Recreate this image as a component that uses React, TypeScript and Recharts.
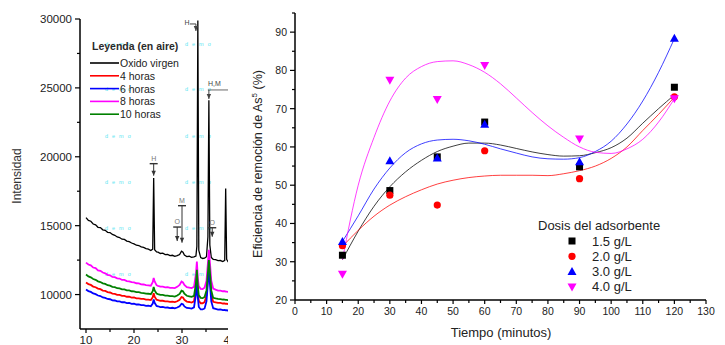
import { LineChart, Line, XAxis, YAxis, ComposedChart, Scatter, ReferenceDot } from "recharts";

const FONT = "Arial, 'Liberation Sans', Helvetica, sans-serif";

// --- Difractogramas (2θ vs intensidad) ---
const angles = [
  10, 10.5, 11, 11.5, 12, 12.5, 13, 13.5, 14, 14.5,
  15, 15.5, 16, 16.5, 17, 17.5, 18, 18.5, 19, 19.5,
  20, 20.5, 21, 21.5, 22, 22.5, 23, 23.5, 23.9, 24.1,
  24.3, 24.7, 25, 25.5, 26, 26.5, 27, 27.5, 28, 28.5,
  29, 29.5, 29.9, 30.2, 30.5, 31, 31.5, 32, 32.5, 32.9,
  33.1, 33.3, 33.5, 33.9, 34.3, 34.7, 35.1, 35.4, 35.6, 35.8,
  36.1, 36.5, 37, 37.5, 38, 38.5, 38.9, 39.1, 39.3, 39.6,
  40,
];
const oxidoVirgen = [
  15580, 15380, 15320, 15120, 15060, 14880, 14860, 14700, 14660, 14520,
  14500, 14360, 14300, 14180, 14140, 14020, 14000, 13880, 13840, 13740,
  13680, 13580, 13560, 13460, 13420, 13330, 13290, 13200, 13300, 18450,
  13250, 13100, 13080, 12980, 13000, 12900, 12920, 12830, 12850, 12770,
  12820, 12900, 13150, 13080, 12860, 12760, 12780, 12700, 12730, 12800,
  13500, 29900, 13200, 12680, 12620, 12640, 12750, 14200, 24100, 13600,
  12700, 12560, 12540, 12460, 12470, 12400, 12480, 17700, 12550, 12380,
  12360,
];
const horas4 = [
  10870, 10760, 10700, 10580, 10530, 10430, 10390, 10290, 10260, 10180,
  10150, 10070, 10050, 9980, 9970, 9900, 9900, 9840, 9840, 9780,
  9790, 9730, 9730, 9680, 9680, 9630, 9630, 9600, 9800, 10100,
  9850, 9630, 9600, 9550, 9550, 9510, 9510, 9470, 9480, 9450,
  9510, 9620, 9820, 9790, 9620, 9490, 9460, 9420, 9510, 10400,
  11300, 10200, 9550, 9370, 9370, 9450, 9950, 11300, 12200, 11400,
  9950, 9470, 9430, 9390, 9390, 9350, 9360, 9330, 9340, 9310,
  9300,
];
const horas6 = [
  10360, 10250, 10190, 10080, 10030, 9930, 9890, 9790, 9760, 9680,
  9660, 9580, 9570, 9500, 9500, 9440, 9440, 9380, 9390, 9330,
  9340, 9280, 9280, 9230, 9230, 9180, 9190, 9150, 9350, 9650,
  9400, 9170, 9150, 9090, 9100, 9050, 9060, 9020, 9040, 9000,
  9060, 9150, 9330, 9290, 9140, 9030, 9010, 8980, 9070, 10000,
  11000, 9800, 9100, 8920, 8920, 8990, 9500, 10900, 11700, 10900,
  9500, 9010, 8960, 8910, 8920, 8870, 8890, 8850, 8860, 8840,
  8840,
];
const horas8 = [
  12320, 12180, 12120, 11960, 11920, 11760, 11720, 11600, 11540, 11430,
  11400, 11280, 11260, 11180, 11160, 11060, 11060, 10980, 10960, 10900,
  10890, 10820, 10810, 10740, 10730, 10680, 10670, 10640, 10900, 11200,
  10950, 10680, 10630, 10570, 10570, 10520, 10530, 10480, 10490, 10470,
  10560, 10700, 10950, 10880, 10700, 10540, 10510, 10470, 10560, 11500,
  12400, 11200, 10600, 10410, 10400, 10500, 11000, 12300, 13250, 12400,
  11000, 10440, 10360, 10290, 10290, 10240, 10240, 10210, 10210, 10190,
  10180,
];
const horas10 = [
  11450, 11320, 11250, 11130, 11070, 10960, 10910, 10810, 10770, 10680,
  10650, 10560, 10540, 10460, 10450, 10380, 10370, 10300, 10300, 10240,
  10230, 10180, 10170, 10120, 10110, 10070, 10060, 10030, 10250, 10550,
  10300, 10070, 10030, 9970, 9970, 9920, 9920, 9880, 9880, 9850,
  9930, 10050, 10280, 10240, 10060, 9910, 9870, 9830, 9910, 10800,
  11800, 10600, 9950, 9760, 9740, 9830, 10300, 11600, 12500, 11700,
  10300, 9760, 9720, 9690, 9670, 9640, 9630, 9610, 9610, 9590,
  9580,
];
const drxNames = ["Oxido virgen", "4 horas", "6 horas", "8 horas", "10 horas"];
const angleTicks = [10, 15, 20, 25, 30, 35, 40];
const intensityTicks = [10000, 12500, 15000, 17500, 20000, 22500, 25000, 27500, 30000];

// marcas de fases sobre los picos: H hematita, M magnetita, O otra fase
const peakTags = [
  { angle: 24.1, level: 19500, label: "H", kind: "bar", drop: 12 },
  { angle: 30.0, level: 16450, label: "M", kind: "bar", drop: 37 },
  { angle: 29.0, level: 14900, label: "O", kind: "bar", drop: 14 },
  { angle: 36.3, level: 14850, label: "O", kind: "bar", drop: 9 },
  { angle: 32.9, level: 29640, label: "H", kind: "corner", drop: 7 },
  { angle: 35.6, level: 24850, label: "H,M", kind: "shelf", drop: 9 },
];

// --- Remoción de arsénico vs tiempo ---
const minutes = [15, 30, 45, 60, 90, 120];
const dosis15 = [31.7, 48.6, 57.4, 66.5, 54.8, 75.6];
const dosis20 = [34.2, 47.4, 44.8, 59.0, 51.7, 73.1];
const dosis30 = [35.3, 56.4, 57.1, 65.9, 56.1, 88.4];
const dosis40 = [26.7, 77.4, 72.4, 81.3, 62.1, 72.6];

const fitMinutes = [15, 20, 25, 30, 35, 40, 45, 50, 55, 60, 65, 70, 75, 80, 85, 90, 95, 100, 105, 110, 115, 120];
const ajuste15 = [30.5, 38, 44.5, 49.6, 53.5, 56.5, 58.8, 60.2, 61, 61, 60.5, 59.6, 58.7, 58, 57.6, 57.7, 58.5, 59.8, 62.3, 66.2, 70, 73.6];
const ajuste20 = [34, 38.2, 41.9, 44.8, 47, 48.8, 50.3, 51.3, 52, 52.4, 52.6, 52.6, 52.6, 52.5, 53, 53.8, 55, 57, 60, 64.3, 68.5, 73];
const ajuste30 = [35.3, 42, 49, 54.5, 58.5, 60.8, 61.8, 62, 61.6, 60.7, 59.5, 58.4, 57.4, 56.9, 56.8, 57.2, 58.8, 61.5, 66, 72, 79.5, 88.3];
const ajuste40 = [30.5, 50, 62.5, 72, 78, 81, 82.3, 82.5, 81.5, 79.5, 76.5, 72.8, 69, 65.5, 62.5, 60, 58.6, 58.3, 59.5, 62, 66.5, 72.6];

const doseLabels = ["1.5 g/L", "2.0 g/L", "3.0 g/L", "4.0 g/L"];
const timeTicks = [0, 5, 10, 15, 20, 25, 30, 35, 40, 45, 50, 55, 60, 65, 70, 75, 80, 85, 90, 95, 100, 105, 110, 115, 120, 125, 130];
const efficiencyTicks = [20, 25, 30, 35, 40, 45, 50, 55, 60, 65, 70, 75, 80, 85, 90, 95];

const drxColors = ["#000000", "#ff0000", "#0000ff", "#ff00ff", "#008000"];
const drxKeys = ["virgen", "h4", "h6", "h8", "h10"];
const doseColors = ["#000000", "#ff0000", "#0000ff", "#ff00ff"];

const drxData = angles.map((a, i) => ({
  a,
  virgen: oxidoVirgen[i],
  h4: horas4[i],
  h6: horas6[i],
  h8: horas8[i],
  h10: horas10[i],
}));

const toPoints = (ys: number[]) => minutes.map((t, i) => ({ t, v: ys[i] }));
const toFit = (ys: number[]) => fitMinutes.map((t, i) => ({ t, v: ys[i] }));
const dosePoints = [dosis15, dosis20, dosis30, dosis40].map(toPoints);
const doseFits = [ajuste15, ajuste20, ajuste30, ajuste40].map(toFit);

// ticks: mayores con etiqueta, menores solo la rayita
const makeYTick = (step: number, fontSize: number) => (props: any) => {
  const { x, y, payload } = props;
  const major = payload.value % step === 0;
  return (
    <g>
      <line x1={x - (major ? 5 : 3)} x2={x} y1={y} y2={y} stroke="#000" strokeWidth={1.2} />
      {major && (
        <text x={x - 8} y={y + 4} textAnchor="end" fontSize={fontSize} fill="#1c1c1c" fontFamily={FONT}>
          {payload.value}
        </text>
      )}
    </g>
  );
};

const makeXTick = (step: number, fontSize: number) => (props: any) => {
  const { x, y, payload } = props;
  const major = payload.value % step === 0;
  return (
    <g>
      <line x1={x} x2={x} y1={y} y2={y + (major ? 4 : 3)} stroke="#000" strokeWidth={1.2} />
      {major && (
        <text x={x} y={y + 15} textAnchor="middle" fontSize={fontSize} fill="#1c1c1c" fontFamily={FONT}>
          {payload.value}
        </text>
      )}
    </g>
  );
};

const PeakTag = (label: string, kind: string, drop: number) => (props: any) => {
  const { cx, cy } = props;
  const head = (x: number, y: number) => `M${x - 2.2},${y - 5}L${x + 2.2},${y - 5}L${x},${y}Z`;
  if (kind === "corner") {
    return (
      <g fill="#444" stroke="#444">
        <text x={cx - 9} y={cy + 1} fontSize={7} stroke="none" fontFamily={FONT} textAnchor="middle">{label}</text>
        <line x1={cx - 6} x2={cx} y1={cy} y2={cy} strokeWidth={1} />
        <line x1={cx} x2={cx} y1={cy} y2={cy + drop} strokeWidth={1} />
        <path d={head(cx, cy + drop)} stroke="none" />
      </g>
    );
  }
  if (kind === "shelf") {
    return (
      <g fill="#444" stroke="#444">
        <text x={cx - 1} y={cy - 4} fontSize={7} stroke="none" fontFamily={FONT}>{label}</text>
        <line x1={cx - 1} x2={cx + 22} y1={cy} y2={cy} strokeWidth={0.8} />
        <line x1={cx} x2={cx} y1={cy} y2={cy + drop} strokeWidth={1} />
        <path d={head(cx, cy + drop)} stroke="none" />
      </g>
    );
  }
  return (
    <g fill="#333" stroke="#333">
      <text x={cx} y={cy - 3} fontSize={7} fill="#777" stroke="none" fontFamily={FONT} textAnchor="middle">{label}</text>
      <line x1={cx - 4} x2={cx + 4} y1={cy} y2={cy} strokeWidth={1.4} />
      <line x1={cx} x2={cx} y1={cy} y2={cy + drop} strokeWidth={1} />
      <path d={head(cx, cy + drop)} stroke="none" />
    </g>
  );
};

const square = (p: any) => <rect x={p.cx - 3.5} y={p.cy - 3.5} width={7} height={7} fill="#000" />;
const circle = (p: any) => <circle cx={p.cx} cy={p.cy} r={3.6} fill="#ff0000" />;
const triUp = (p: any) => (
  <path d={`M${p.cx},${p.cy - 4.5}L${p.cx + 4.5},${p.cy + 3.5}L${p.cx - 4.5},${p.cy + 3.5}Z`} fill="#0000ff" />
);
const triDown = (p: any) => (
  <path d={`M${p.cx},${p.cy + 4.5}L${p.cx + 4.5},${p.cy - 3.5}L${p.cx - 4.5},${p.cy - 3.5}Z`} fill="#ff00ff" />
);
const doseShapes = [square, circle, triUp, triDown];

// marca de agua de la versión demo
const demoSpots = [46, 91, 138, 184, 230, 276].flatMap((y) => [
  { x: 105, y },
  { x: 185, y },
]);

const App = () => {
  return (
    <div style={{ position: "absolute", left: 0, top: 0, width: 725, height: 345, overflow: "hidden", background: "#fff" }}>
      {/* difractogramas, recortados por el borde derecho */}
      <div style={{ position: "absolute", left: 0, top: 0, width: 228, height: 345, overflow: "hidden" }}>
        <svg width={228} height={345} style={{ position: "absolute", left: 0, top: 0, pointerEvents: "none" }}>
          {demoSpots.map((s, i) => (
            <text key={i} x={s.x} y={s.y} fontSize={5.5} letterSpacing={4} fill="#5ce6f2" fontFamily={FONT}>
              demo
            </text>
          ))}
        </svg>
        <div style={{ position: "absolute", left: 0, top: 0 }}>
          <LineChart width={260} height={345} data={drxData} margin={{ top: 19, right: 30, bottom: 0, left: 0 }}>
            <XAxis
              dataKey="a"
              type="number"
              domain={[8.75, 40]}
              ticks={angleTicks}
              allowDataOverflow
              height={16}
              tickSize={0}
              tickMargin={0}
              tickLine={false}
              axisLine={{ stroke: "#000", strokeWidth: 1.5 }}
              tick={makeXTick(10, 11.5)}
              interval={0}
            />
            <YAxis
              type="number"
              domain={[7500, 30000]}
              ticks={intensityTicks}
              allowDataOverflow
              width={80}
              tickSize={0}
              tickMargin={0}
              tickLine={false}
              axisLine={{ stroke: "#000", strokeWidth: 1.5 }}
              tick={makeYTick(5000, 11.5)}
              interval={0}
            />
            {drxKeys.map((k, i) => (
              <Line
                key={k}
                dataKey={k}
                name={drxNames[i]}
                stroke={drxColors[i]}
                strokeWidth={i === 0 ? 1.3 : 1.8}
                dot={false}
                type="linear"
                isAnimationActive={false}
              />
            ))}
            {peakTags.map((t, i) => (
              <ReferenceDot
                key={i}
                x={t.angle}
                y={t.level}
                r={0}
                ifOverflow="visible"
                shape={PeakTag(t.label, t.kind, t.drop)}
              />
            ))}
          </LineChart>
        </div>
        <svg width={228} height={345} style={{ position: "absolute", left: 0, top: 0, pointerEvents: "none" }}>
          <text x={92} y={50} fontSize={10.5} fontWeight="bold" fill="#2a2a2a" fontFamily={FONT}>
            Leyenda (en aire)
          </text>
          {drxNames.map((n, i) => (
            <g key={n}>
              <line x1={90} x2={119} y1={63 + i * 12.8} y2={63 + i * 12.8} stroke={drxColors[i]} strokeWidth={1.6} />
              <text x={120} y={67 + i * 12.8} fontSize={10.5} fill="#222" fontFamily={FONT}>
                {n}
              </text>
            </g>
          ))}
          <text
            transform="translate(21,176) rotate(-90)"
            textAnchor="middle"
            fontSize={12}
            fill="#333"
            fontFamily={FONT}
          >
            Intensidad
          </text>
        </svg>
      </div>

      {/* eficiencia de remoción */}
      <div style={{ position: "absolute", left: 240, top: 0 }}>
        <ComposedChart width={485} height={345} margin={{ top: 13, right: 19, bottom: 0, left: 0 }}>
          <XAxis
            dataKey="t"
            type="number"
            domain={[0, 130]}
            ticks={timeTicks}
            height={45}
            tickSize={0}
            tickMargin={0}
            tickLine={false}
            axisLine={{ stroke: "#000", strokeWidth: 1.5 }}
            tick={makeXTick(10, 10.5)}
            interval={0}
          />
          <YAxis
            type="number"
            domain={[20, 95]}
            ticks={efficiencyTicks}
            width={55}
            tickSize={0}
            tickMargin={0}
            tickLine={false}
            axisLine={{ stroke: "#000", strokeWidth: 1.5 }}
            tick={makeYTick(10, 10.5)}
            interval={0}
          />
          {doseFits.map((d, i) => (
            <Line
              key={"fit" + i}
              data={d}
              dataKey="v"
              stroke={doseColors[i]}
              strokeOpacity={0.75}
              strokeWidth={1}
              dot={false}
              type="monotone"
              isAnimationActive={false}
            />
          ))}
          {dosePoints.map((d, i) => (
            <Scatter
              key={"pts" + i}
              name={doseLabels[i]}
              data={d}
              dataKey="v"
              shape={doseShapes[i]}
              isAnimationActive={false}
            />
          ))}
        </ComposedChart>
      </div>

      <svg width={725} height={345} style={{ position: "absolute", left: 0, top: 0, pointerEvents: "none" }}>
        <text
          transform="translate(262,164) rotate(-90)"
          textAnchor="middle"
          fontSize={12.5}
          fill="#222"
          fontFamily={FONT}
        >
          Eficiencia de remoción de As
          <tspan dy={-5} fontSize={8}>5</tspan>
          <tspan dy={5}> (%)</tspan>
        </text>
        <text x={501} y={337} textAnchor="middle" fontSize={13} fill="#222" fontFamily={FONT}>
          Tiempo (minutos)
        </text>
        <text x={538} y={230} fontSize={13} fill="#222" fontFamily={FONT}>
          Dosis del adsorbente
        </text>
        {doseLabels.map((l, i) => {
          const y = 241 + i * 15.3;
          const Shape = doseShapes[i];
          return (
            <g key={l}>
              {Shape({ cx: 572, cy: y })}
              <text x={592} y={y + 4.5} fontSize={13} fill="#222" fontFamily={FONT}>
                {l}
              </text>
            </g>
          );
        })}
      </svg>
    </div>
  );
};

export default App;
